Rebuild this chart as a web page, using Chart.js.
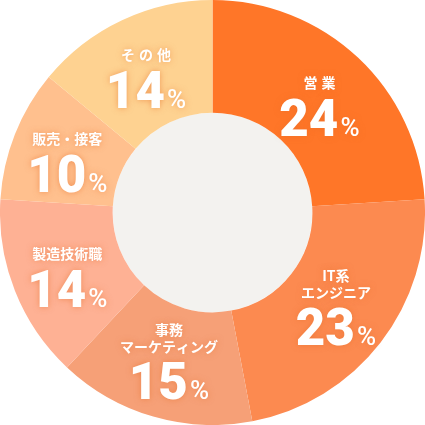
<!DOCTYPE html>
<html lang="ja">
<head>
<meta charset="utf-8">
<script src="https://cdn.jsdelivr.net/npm/chart.js@4"></script>
<style>
  html, body { margin: 0; padding: 0; background: #fff; }
  #wrap { width: 425px; height: 425px; }
</style>
</head>
<body>
<div id="wrap"><canvas id="chart" width="425" height="425"></canvas></div>
<script>
// job categories (multi-line names) and share in %
const categories = [['営業'], ['IT系', 'エンジニア'], ['事務', 'マーケティング'], ['製造技術職'], ['販売・接客'], ['その他']];
const shares = [24, 23, 15, 14, 10, 14];
const sliceColors = ['#ff7628', '#fc8a50', '#f6a077', '#feb194', '#ffc08e', '#fed291'];

const JP_FONT = '"Noto Sans CJK JP", "Noto Sans", sans-serif';
const NUM_FONT = 'Roboto, "Noto Sans", sans-serif';

// fill the hole of the doughnut with light grey
const centerFill = {
    id: 'centerFill',
    beforeDatasetsDraw(chart) {
        const arc = chart.getDatasetMeta(0).data[0];
        if (!arc) return;
        const ctx = chart.ctx;
        ctx.save();
        ctx.beginPath();
        ctx.arc(arc.x, arc.y, arc.innerRadius, 0, Math.PI * 2);
        ctx.fillStyle = '#f3f2ef';
        ctx.fill();
        ctx.restore();
    }
};

// white labels with a soft glow inside each slice
const sliceLabels = {
    id: 'sliceLabels',
    afterDatasetsDraw(chart) {
        const ctx = chart.ctx;
        const meta = chart.getDatasetMeta(0);
        meta.data.forEach((arc, i) => {
            const pos = arc.tooltipPosition();
            const lines = categories[i];
            ctx.save();
            ctx.fillStyle = '#fff';
            ctx.shadowColor = 'rgba(230,110,40,0.55)';
            ctx.shadowBlur = 6;
            ctx.textAlign = 'center';
            ctx.textBaseline = 'middle';

            // name lines, stacked upward above the number
            const spaced = lines.length === 1 && lines[0].length <= 3;
            ctx.font = 'bold 14px ' + JP_FONT;
            ctx.letterSpacing = spaced ? '4px' : '0px';
            lines.forEach((txt, k) => {
                const y = pos.y - 16 - (lines.length - 1 - k) * 17;
                ctx.fillText(txt, pos.x + (spaced ? 2 : 0), y);
            });

            // big percentage
            ctx.letterSpacing = '0px';
            ctx.textAlign = 'left';
            ctx.textBaseline = 'alphabetic';
            const num = String(shares[i]);
            ctx.font = '900 51px ' + NUM_FONT;
            const wNum = ctx.measureText(num).width;
            ctx.font = '500 26px ' + NUM_FONT;
            const wPct = ctx.measureText('%').width;
            const x0 = pos.x - (wNum + wPct + 2) / 2;
            const base = pos.y + 37;
            ctx.font = '900 51px ' + NUM_FONT;
            ctx.fillText(num, x0, base);
            ctx.font = '500 26px ' + NUM_FONT;
            ctx.fillText('%', x0 + wNum + 2, base);
            ctx.restore();
        });
    }
};

new Chart(document.getElementById('chart'), {
    type: 'doughnut',
    data: {
        labels: categories.map(l => l.join('')),
        datasets: [{
            data: shares,
            backgroundColor: sliceColors,
            borderWidth: 0,
            hoverOffset: 0
        }]
    },
    options: {
        responsive: false,
        animation: false,
        cutout: '47%',
        layout: { padding: 0 },
        plugins: {
            legend: { display: false },
            tooltip: { enabled: false }
        }
    },
    plugins: [centerFill, sliceLabels]
});
</script>
</body>
</html>
